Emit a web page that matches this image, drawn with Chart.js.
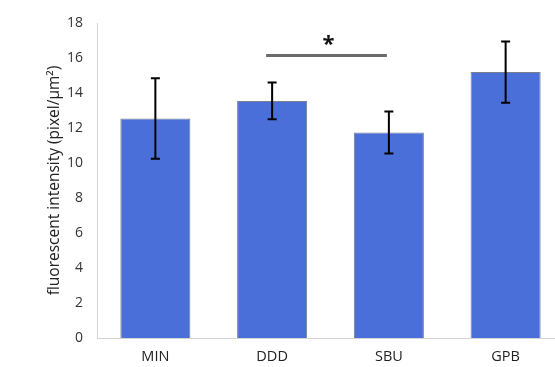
<!DOCTYPE html>
<html lang="en">
<head>
  <meta charset="UTF-8">
  <title>Fluorescent intensity</title>
  <script src="https://cdn.jsdelivr.net/npm/chart.js"></script>
  <style>
    html, body { margin:0; padding:0; background:#fff; overflow:hidden; }
    #wrap { width:566px; height:367px; }
  </style>
</head>
<body>
  <div id="wrap"><canvas id="chart" width="566" height="367"></canvas></div>
  <script>
    // data
    const groups = ['MIN', 'DDD', 'SBU', 'GPB'];
    const means = [12.55, 13.55, 11.75, 15.2];
    const errors = [2.3, 1.05, 1.2, 1.75];
    const yTicks = [0, 2, 4, 6, 8, 10, 12, 14, 16, 18];
    // significance bracket between DDD and SBU
    const sigPair = ['DDD', 'SBU'];
    const sigLevel = 16.15;
    const sigMark = '*';

    const fontFam = '"Open Sans", "Noto Sans", sans-serif';

    const extras = {
      id: 'extras',
      afterDatasetsDraw(chart) {
        const ctx = chart.ctx;
        const x = chart.scales.x, y = chart.scales.y;
        ctx.save();
        // error bars
        ctx.strokeStyle = '#000';
        ctx.lineWidth = 2;
        means.forEach((m, i) => {
          const cx = x.getPixelForValue(i);
          const top = y.getPixelForValue(m + errors[i]);
          const bot = y.getPixelForValue(m - errors[i]);
          ctx.beginPath();
          ctx.moveTo(cx, top); ctx.lineTo(cx, bot);
          ctx.moveTo(cx - 4.5, top); ctx.lineTo(cx + 4.5, top);
          ctx.moveTo(cx - 4.5, bot); ctx.lineTo(cx + 4.5, bot);
          ctx.stroke();
        });
        // significance line + star
        const a = x.getPixelForValue(groups.indexOf(sigPair[0])) - 6;
        const b = x.getPixelForValue(groups.indexOf(sigPair[1])) - 2;
        const ly = y.getPixelForValue(sigLevel);
        ctx.strokeStyle = '#6b6b6b';
        ctx.lineWidth = 3;
        ctx.beginPath();
        ctx.moveTo(a, ly); ctx.lineTo(b, ly);
        ctx.stroke();
        ctx.fillStyle = '#111';
        ctx.font = 'bold 22px ' + fontFam;
        ctx.textAlign = 'center';
        ctx.textBaseline = 'middle';
        ctx.fillText(sigMark, (a + b) / 2 + 2, ly - 11);
        ctx.restore();
      }
    };

    new Chart(document.getElementById('chart').getContext('2d'), {
      type: 'bar',
      data: {
        labels: groups,
        datasets: [{
          data: means,
          backgroundColor: '#4a6fd9',
          borderColor: '#7a7f8c',
          borderWidth: 1,
          barPercentage: 0.6,
          categoryPercentage: 1
        }]
      },
      options: {
        responsive: false,
        animation: false,
        layout: { padding: { top: 23, right: 2, left: 45, bottom: 0 } },
        plugins: { legend: { display: false }, tooltip: { enabled: false } },
        scales: {
          x: {
            grid: { display: false, drawTicks: false },
            border: { color: '#d4d4d4', width: 1 },
            ticks: { color: '#222', font: { family: fontFam, size: 14.5 }, padding: 10 },
            afterFit: s => { s.height = 29; }
          },
          y: {
            min: 0, max: 18,
            afterBuildTicks: s => { s.ticks = yTicks.map(v => ({ value: v })); },
            grid: { display: false, drawTicks: false },
            border: { color: '#d4d4d4', width: 1 },
            ticks: { color: '#333', font: { family: fontFam, size: 14 }, padding: 14 },
            title: {
              display: true,
              text: 'fluorescent intensity (pixel/µm²)',
              color: '#222',
              font: { family: fontFam, size: 15.5 },
              padding: 0
            },
            afterFit: s => { s.width = 52; }
          }
        }
      },
      plugins: [extras]
    });
  </script>
</body>
</html>
